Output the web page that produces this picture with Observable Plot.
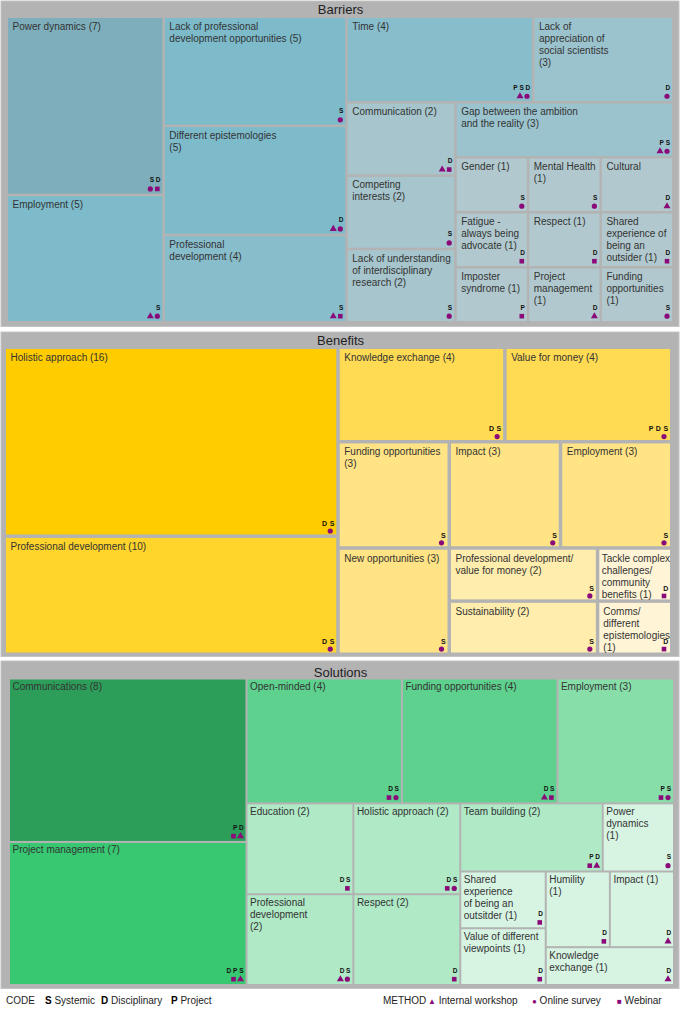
<!DOCTYPE html>
<html><head><meta charset="utf-8">
<script src="https://cdn.jsdelivr.net/npm/d3@7"></script>
<script src="https://cdn.jsdelivr.net/npm/@observablehq/plot@0.6"></script>
<style>
body{margin:0;background:#fff;font-family:"Liberation Sans",Arial,sans-serif;}
#legend{position:relative;height:20px;font-size:10px;color:#222;}
#legend span{position:absolute;top:5px;white-space:nowrap;}
#legend b{font-weight:900;color:#000;}
#legend i{font-style:normal;color:#8b0a7a;font-size:8px;}
</style></head><body>
<div id="chart"></div>
<div id="legend"></div>
<script>
// ---------- DATA ----------
const sectionNames = ["Barriers", "Benefits", "Solutions"];

const barrierLabels = [
  "Power dynamics (7)", "Employment (5)", "Lack of professional\ndevelopment opportunities (5)",
  "Different epistemologies\n(5)", "Professional\ndevelopment (4)", "Time (4)",
  "Lack of\nappreciation of\nsocial scientists\n(3)", "Communication (2)", "Competing\ninterests (2)",
  "Lack of understanding\nof interdisciplinary\nresearch (2)", "Gap between the ambition\nand the reality (3)",
  "Gender (1)", "Fatigue -\nalways being\nadvocate (1)", "Imposter\nsyndrome (1)",
  "Mental Health\n(1)", "Respect (1)", "Project\nmanagement\n(1)",
  "Cultural", "Shared\nexperience of\nbeing an\noutsider (1)", "Funding\nopportunities\n(1)"
];
const barrierValues = [7, 5, 5, 5, 4, 4, 3, 2, 2, 2, 3, 1, 1, 1, 1, 1, 1, 1, 1, 1];
const barrierCodes = ["SD", "S", "S", "D", "S", "PSD", "D", "D", "S", "S", "PS", "S", "D", "P", "S", "D", "D", "D", "D", "S"];
const barrierMethods = ["OW", "TO", "O", "TO", "TW", "TO", "O", "TW", "O", "O", "TO", "O", "W", "W", "O", "W", "T", "T", "W", "O"];
const barrierBlocks = ["a", "a", "b", "b", "b", "c.a", "c.a", "c.b.a", "c.b.a", "c.b.a", "c.b.b",
  "c.b.b.g.1", "c.b.b.g.1", "c.b.b.g.1", "c.b.b.g.2", "c.b.b.g.2", "c.b.b.g.2", "c.b.b.g.3", "c.b.b.g.3", "c.b.b.g.3"];

const benefitLabels = [
  "Holistic approach (16)", "Professional development (10)", "Knowledge exchange (4)", "Value for money (4)",
  "Funding opportunities\n(3)", "New opportunities (3)", "Impact (3)", "Employment (3)",
  "Professional development/\nvalue for money (2)", "Sustainability (2)",
  "Tackle complex\nchallenges/\ncommunity\nbenefits (1)", "Comms/\ndifferent\nepistemologies\n(1)"
];
const benefitValues = [16, 10, 4, 4, 3, 3, 3, 3, 2, 2, 1, 1];
const benefitCodes = ["DS", "DS", "DS", "PDS", "S", "S", "S", "S", "S", "S", "D", "D"];
const benefitMethods = ["O", "O", "O", "O", "O", "O", "O", "O", "O", "O", "W", "W"];
const benefitBlocks = ["a", "a", "b.a", "b.a", "b.b.a", "b.b.a", "b.b.b.a", "b.b.b.a", "b.b.b.b.a", "b.b.b.b.a", "b.b.b.b.b", "b.b.b.b.b"];

const solutionLabels = [
  "Communications (8)", "Project management (7)", "Open-minded (4)", "Funding opportunities (4)", "Employment (3)",
  "Education (2)", "Professional\ndevelopment\n(2)", "Holistic approach (2)", "Respect (2)", "Team building (2)",
  "Power\ndynamics\n(1)", "Shared\nexperience\nof being an\noutsitder (1)", "Value of different\nviewpoints (1)",
  "Humility\n(1)", "Impact (1)", "Knowledge\nexchange (1)"
];
const solutionValues = [8, 7, 4, 4, 3, 2, 2, 2, 2, 2, 1, 1, 1, 1, 1, 1];
const solutionCodes = ["PD", "DPS", "DS", "DS", "PS", "DS", "DS", "DS", "D", "PD", "S", "D", "D", "D", "D", "D"];
const solutionMethods = ["WT", "WT", "WO", "TW", "WO", "W", "TO", "WO", "W", "WT", "O", "W", "W", "W", "T", "T"];
const solutionBlocks = ["a", "a", "b.a", "b.a", "b.a", "b.b.a", "b.b.a", "b.b.b", "b.b.b", "b.b.c.a", "b.b.c.a",
  "b.b.c.b.a", "b.b.c.b.a", "b.b.c.b.b.a", "b.b.c.b.b.a", "b.b.c.b.b"];

const codeNames = ["S", "D", "P"];
const codeLabels = ["Systemic", "Disciplinary", "Project"];
const methodKeys = ["T", "O", "W"];
const methodLabels = ["Internal workshop", "Online survey", "Webinar"];

// ---------- STYLE ----------
const purple = "#8b0a7a";
const palettes = {
  Barriers: {7: "#7eaebb", 5: "#7dbbcb", 4: "#88bdcb", 3: "#9bc3ce", 2: "#a6c5cc", 1: "#b1c9ce"},
  Benefits: {16: "#ffcc00", 10: "#ffd42b", 4: "#ffdb53", 3: "#ffe384", 2: "#ffedad", 1: "#fff5d6"},
  Solutions: {8: "#2d9e5a", 7: "#38c871", 4: "#5dd18d", 3: "#87dea9", 2: "#afe9c6", 1: "#d7f4e3"}
};
const frames = {
  Barriers: {panel: [1, 679, 1, 326.5], title: 9, cells: [8, 672, 18, 321], pad: 2.5, inset: 4, top: 2.5,
             letterDy: 14, dotDy: 5.3, letterGap: 6.2, dotRight: 5.5, fs: 6.5},
  Benefits: {panel: [1, 679, 332, 656.5], title: 340, cells: [6, 670, 349, 652.5], pad: 3.5, inset: 4, top: 3,
             letterDy: 11.3, dotDy: 3.9, letterGap: 7.4, dotRight: 6.5, fs: 7},
  Solutions: {panel: [1, 679, 661, 988.5], title: 672, cells: [10, 673, 679.5, 984], pad: 2, inset: 2, top: 1.5,
             letterDy: 14, dotDy: 5.3, letterGap: 6.2, dotRight: 5.5, fs: 6.5}
};
const symbolOf = {T: "triangle", O: "circle", W: "square"};

const ctx = document.createElement("canvas").getContext("2d");
ctx.font = '10px "Liberation Sans", Arial, sans-serif';

const sectionData = {
  Barriers: [barrierLabels, barrierValues, barrierCodes, barrierMethods, barrierBlocks],
  Benefits: [benefitLabels, benefitValues, benefitCodes, benefitMethods, benefitBlocks],
  Solutions: [solutionLabels, solutionValues, solutionCodes, solutionMethods, solutionBlocks]
};

function build(blocks) {
  const root = {children: []};
  blocks.forEach((b, i) => {
    let node = root;
    for (const seg of b.split(".")) {
      let c = node.children.find(c => c.key === seg && c.children);
      if (!c) { c = {key: seg, children: []}; node.children.push(c); }
      node = c;
    }
    node.children.push({leaf: i});
  });
  return root;
}

const panels = [], cells = [], letters = [], dots = [];
for (const s of sectionNames) {
  const [labels, values, codes, methods, blocks] = sectionData[s];
  const f = frames[s];
  panels.push({name: s, x1: f.panel[0], x2: f.panel[1], y1: f.panel[2], y2: f.panel[3], ty: f.title});
  const [cx0, cx1, cy0, cy1] = f.cells;
  const h = d3.hierarchy(build(blocks)).sum(d => d.leaf !== undefined ? values[d.leaf] : 0);
  d3.treemap().tile(d3.treemapSliceDice).size([cx1 - cx0, cy1 - cy0]).paddingInner(f.pad).round(false)(h);
  for (const leaf of h.leaves()) {
    const i = leaf.data.leaf;
    const x0 = leaf.x0 + cx0, x1 = leaf.x1 + cx0, y0 = leaf.y0 + cy0, y1 = leaf.y1 + cy0;
    const maxW = d3.max(labels[i].split("\n"), l => ctx.measureText(l).width);
    const inset = Math.min(f.inset, Math.max(1, (x1 - x0) - maxW - 0.5));
    cells.push({x0, x1, y0, y1, label: labels[i], color: palettes[s][values[i]], tx: x0 + inset, ty: y0 + f.top});
    const c = codes[i].split("");
    c.forEach((ch, j) => letters.push({x: x1 - 4.7 - (c.length - 1 - j) * f.letterGap, y: y1 - f.letterDy, t: ch, fs: f.fs}));
    const m = methods[i].split("");
    m.forEach((k, j) => dots.push({x: x1 - f.dotRight - (m.length - 1 - j) * 7, y: y1 - f.dotDy, k}));
  }
}

const chart = Plot.plot({
  width: 681, height: 990, margin: 0,
  x: {domain: [0, 681], range: [0, 681], axis: null},
  y: {domain: [0, 990], range: [0, 990], axis: null},
  color: {type: "identity"},
  style: {fontFamily: '"Liberation Sans", Arial, sans-serif', background: "#fff"},
  marks: [
    Plot.rect(panels, {x1: "x1", x2: "x2", y1: "y1", y2: "y2", fill: "#b3b3b3", stroke: "#c4c4c4", strokeWidth: 1}),
    Plot.text(panels, {x: d => (d.x1 + d.x2) / 2, y: "ty", text: "name", fontSize: 13, fill: "#222"}),
    Plot.rect(cells, {x1: "x0", x2: "x1", y1: "y0", y2: "y1", fill: "color"}),
    Plot.text(cells, {x: "tx", y: "ty", text: "label", textAnchor: "start", lineAnchor: "top", fontSize: 10, lineHeight: 1.2, fill: "#333"}),
    Plot.text(letters.filter(d => d.fs === 6.5), {x: "x", y: "y", text: "t", fontSize: 6.5, fontWeight: 900, fill: "#111"}),
    Plot.text(letters.filter(d => d.fs === 7), {x: "x", y: "y", text: "t", fontSize: 7, fontWeight: 900, fill: "#111"}),
    ...methodKeys.map(k => Plot.dot(dots.filter(d => d.k === k), {x: "x", y: "y", symbol: symbolOf[k], r: 2.6, fill: purple}))
  ]
});
document.getElementById("chart").append(chart);

// legend
const leg = document.getElementById("legend");
const codeX = [45, 101, 171], methX = [428, 532, 617];
let html = `<span style="left:6px">CODE</span>`;
codeNames.forEach((c, i) => html += `<span style="left:${codeX[i]}px"><b>${c}</b> ${codeLabels[i]}</span>`);
html += `<span style="left:383px">METHOD</span>`;
const glyph = {T: "▲", O: "●", W: "■"};
methodKeys.forEach((k, i) => html += `<span style="left:${methX[i]}px"><i>${glyph[k]}</i> ${methodLabels[i]}</span>`);
leg.innerHTML = html;
</script>
</body></html>
